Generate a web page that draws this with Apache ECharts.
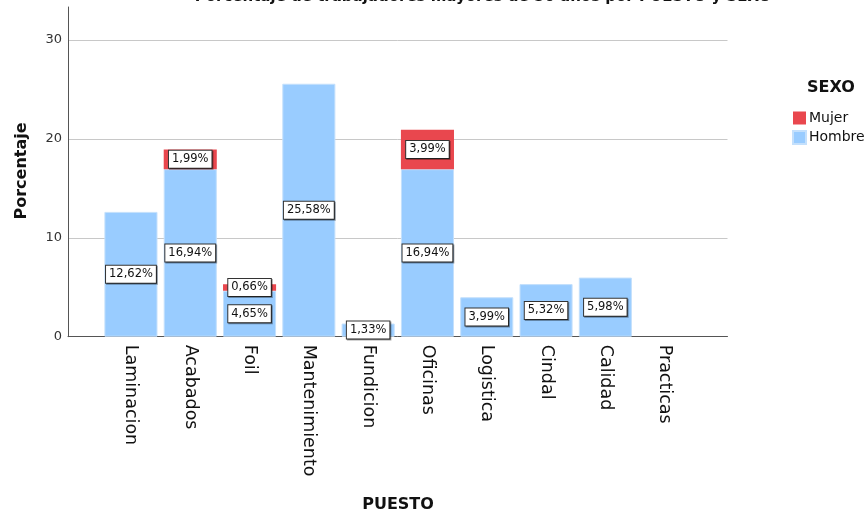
<!DOCTYPE html>
<html>
<head>
<meta charset="utf-8">
<script src="https://cdn.jsdelivr.net/npm/echarts@6/dist/echarts.min.js"></script>
<style>
  html, body { margin: 0; padding: 0; background: #fff; }
  #chart { width: 866px; height: 514px; }
</style>
</head>
<body>
<div id="chart"></div>
<script>
// Porcentaje de trabajadores mayores de 50 años, por puesto y sexo
const puestos = ['Laminacion', 'Acabados', 'Foil', 'Mantenimiento', 'Fundicion',
                 'Oficinas', 'Logistica', 'Cindal', 'Calidad', 'Practicas'];
const hombre = [12.62, 16.94, 4.65, 25.58, 1.33, 16.94, 3.99, 5.32, 5.98, 0];
const mujer  = [0, 1.99, 0.66, 0, 0, 3.99, 0, 0, 0, 0];
const yTicks = [0, 10, 20, 30];

const FONT = 'DejaVu Sans';
const Y_MAX = 33.34;
const AZUL = '#99ccff';
const ROJO = '#e9474e';

// zero-valued segments are drawn without label or outline
function withLabels(values) {
  return values.map(v => v === 0
    ? { value: v, label: { show: false }, itemStyle: { borderWidth: 0 } }
    : v);
}

const labelBox = {
  show: true,
  position: 'inside',
  formatter: p => p.value.toFixed(2).replace('.', ',') + '%',
  fontFamily: FONT,
  fontSize: 11.5,
  color: '#111',
  backgroundColor: '#fff',
  borderColor: '#333',
  borderWidth: 1,
  padding: [3, 3, 2, 3],
  shadowColor: 'rgba(0,0,0,0.35)',
  shadowOffsetX: 1,
  shadowOffsetY: 1,
  shadowBlur: 0
};

const chart = echarts.init(document.getElementById('chart'), null, { renderer: 'canvas' });

chart.setOption({
  backgroundColor: '#fff',
  animation: false,
  textStyle: { fontFamily: FONT },
  grid: [
    // frame: axis lines and gridlines
    { left: 68, right: 138.5, top: 7, bottom: 177.3, containLabel: false },
    // bars, inset from the frame on both sides
    { left: 101.3, width: 593, top: 7, bottom: 177.3, containLabel: false }
  ],
  xAxis: [
    {
      gridIndex: 0, type: 'value', min: 0, max: 1,
      axisLine: { show: true, lineStyle: { color: '#555', width: 1 } },
      axisTick: { show: false }, axisLabel: { show: false }, splitLine: { show: false }
    },
    {
      gridIndex: 1, type: 'category', data: puestos,
      axisLine: { show: false }, axisTick: { show: false },
      axisLabel: {
        rotate: -90, interval: 0, margin: 8,
        fontFamily: FONT, fontSize: 17.5, color: '#111'
      }
    }
  ],
  yAxis: [
    {
      gridIndex: 0, type: 'value', min: 0, max: Y_MAX, interval: 10,
      axisLine: { show: true, lineStyle: { color: '#555', width: 1 } },
      axisTick: { show: false },
      axisLabel: {
        margin: 6, fontFamily: FONT, fontSize: 13, color: '#333',
        showMaxLabel: false,
        formatter: v => (yTicks.indexOf(v) >= 0 ? String(v) : '')
      },
      splitLine: { show: true, showMinLine: false, showMaxLine: false,
                   lineStyle: { color: '#c8c8c8', width: 1 } }
    },
    {
      gridIndex: 1, type: 'value', min: 0, max: Y_MAX, show: false,
      splitLine: { show: false }
    }
  ],
  legend: {
    orient: 'vertical',
    left: 787, top: 106,
    data: ['Mujer', 'Hombre'],
    icon: 'rect',
    itemWidth: 13, itemHeight: 13, itemGap: 5,
    textStyle: { fontFamily: FONT, fontSize: 14, color: '#111', padding: [0, 0, 0, -2] }
  },
  series: [
    {
      name: 'Hombre', type: 'bar', stack: 'total',
      xAxisIndex: 1, yAxisIndex: 1,
      barCategoryGap: '10.5%',
      itemStyle: { color: AZUL, borderColor: '#c4e0fc', borderWidth: 1 },
      label: labelBox,
      data: withLabels(hombre)
    },
    {
      name: 'Mujer', type: 'bar', stack: 'total',
      xAxisIndex: 1, yAxisIndex: 1,
      barCategoryGap: '10.5%',
      itemStyle: { color: ROJO },
      label: labelBox,
      data: withLabels(mujer)
    }
  ],
  graphic: [
    {
      type: 'text', x: 483, y: 4.5,
      style: {
        text: 'Porcentaje de trabajadores mayores de 50 años por PUESTO y SEXO',
        font: 'bold 15px "DejaVu Sans"', fill: '#111',
        textAlign: 'center', textVerticalAlign: 'bottom'
      }
    },
    {
      type: 'text', x: 22, y: 171, rotation: Math.PI / 2,
      style: {
        text: 'Porcentaje', font: 'bold 16px "DejaVu Sans"', fill: '#111',
        textAlign: 'center', textVerticalAlign: 'middle'
      }
    },
    {
      type: 'text', x: 398, y: 505,
      style: {
        text: 'PUESTO', font: 'bold 16px "DejaVu Sans"', fill: '#111',
        textAlign: 'center', textVerticalAlign: 'middle'
      }
    },
    {
      type: 'text', x: 831, y: 88,
      style: {
        text: 'SEXO', font: 'bold 16px "DejaVu Sans"', fill: '#111',
        textAlign: 'center', textVerticalAlign: 'middle'
      }
    }
  ]
});
</script>
</body>
</html>
